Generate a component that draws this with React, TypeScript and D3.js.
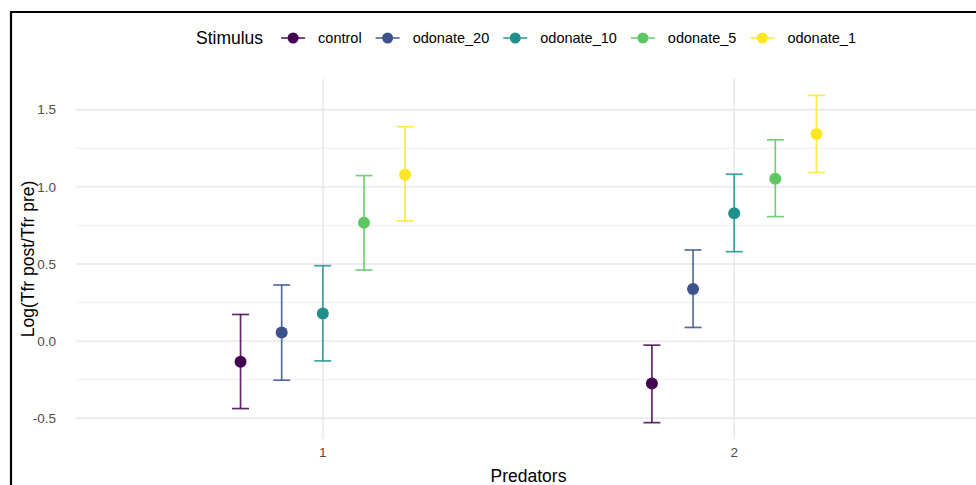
import React, { useEffect, useRef } from "react";
import * as d3 from "d3";

const categories = ["1", "2"];
const stimuli = ["control", "odonate_20", "odonate_10", "odonate_5", "odonate_1"];
const colors = ["#440154", "#3B528B", "#21908C", "#5DC863", "#FDE725"];
const mean1 = [-0.134, 0.056, 0.18, 0.768, 1.078];
const lower1 = [-0.437, -0.253, -0.128, 0.461, 0.779];
const upper1 = [0.173, 0.364, 0.489, 1.073, 1.39];
const mean2 = [-0.275, 0.338, 0.829, 1.052, 1.342];
const lower2 = [-0.528, 0.089, 0.58, 0.807, 1.093];
const upper2 = [-0.026, 0.591, 1.082, 1.305, 1.593];
const yTicks = [-0.5, 0.0, 0.5, 1.0, 1.5];
const yMinor = [-0.25, 0.25, 0.75, 1.25];

const W = 976;
const H = 485;
const FONT = "'Liberation Sans', Arial, sans-serif";

export default function App() {
  const ref = useRef<SVGSVGElement>(null);

  useEffect(() => {
    const svg = d3.select(ref.current);
    svg.selectAll("*").remove();

    const rows: any[] = [];
    const means = [mean1, mean2];
    const lows = [lower1, lower2];
    const ups = [upper1, upper2];
    categories.forEach((c, ci) => {
      stimuli.forEach((s, si) => {
        rows.push({ cat: c, stim: s, m: means[ci][si], lo: lows[ci][si], hi: ups[ci][si], col: colors[si] });
      });
    });

    const panel = { left: 76, right: 981, top: 79, bottom: 439 };
    const lo = d3.min(rows, (d) => d.lo) as number;
    const hi = d3.max(rows, (d) => d.hi) as number;
    const pad = (hi - lo) * 0.05;
    const y = d3.scaleLinear().domain([lo - pad, hi + pad]).range([panel.bottom, panel.top]);

    const unit = (panel.right - panel.left) / 2.2;
    const x = d3
      .scalePoint<string>()
      .domain(categories)
      .range([panel.left + 0.6 * unit, panel.right - 0.6 * unit]);
    const dodge = d3.scalePoint<string>().domain(stimuli).range([-0.2 * unit, 0.2 * unit]);

    const g = svg.append("g");

    // minor grid
    g.selectAll(".minor")
      .data(yMinor)
      .join("line")
      .attr("x1", panel.left)
      .attr("x2", panel.right)
      .attr("y1", (d) => y(d))
      .attr("y2", (d) => y(d))
      .attr("stroke", "#EBEBEB")
      .attr("stroke-width", 0.8);
    // major grid
    g.selectAll(".major")
      .data(yTicks)
      .join("line")
      .attr("x1", panel.left)
      .attr("x2", panel.right)
      .attr("y1", (d) => y(d))
      .attr("y2", (d) => y(d))
      .attr("stroke", "#E6E6E6")
      .attr("stroke-width", 1.4);
    g.selectAll(".vmajor")
      .data(categories)
      .join("line")
      .attr("x1", (d) => x(d)!)
      .attr("x2", (d) => x(d)!)
      .attr("y1", panel.top)
      .attr("y2", panel.bottom)
      .attr("stroke", "#E6E6E6")
      .attr("stroke-width", 1.4);

    // y tick labels
    g.selectAll(".ylab")
      .data(yTicks)
      .join("text")
      .attr("x", 56)
      .attr("y", (d) => y(d))
      .attr("dy", "0.35em")
      .attr("text-anchor", "end")
      .attr("font-family", FONT)
      .attr("font-size", 13.5)
      .attr("fill", "#4D4D4D")
      .text((d) => d3.format(".1f")(d).replace("−", "-"));

    // x tick labels
    g.selectAll(".xlab")
      .data(categories)
      .join("text")
      .attr("x", (d) => x(d)!)
      .attr("y", 457)
      .attr("text-anchor", "middle")
      .attr("font-family", FONT)
      .attr("font-size", 13.5)
      .attr("fill", "#4D4D4D")
      .text((d) => d);

    // axis titles
    g.append("text")
      .attr("x", (panel.left + panel.right) / 2)
      .attr("y", 482)
      .attr("text-anchor", "middle")
      .attr("font-family", FONT)
      .attr("font-size", 17.5)
      .attr("fill", "#000")
      .text("Predators");
    g.append("text")
      .attr("transform", `translate(34,${(panel.top + panel.bottom) / 2}) rotate(-90)`)
      .attr("text-anchor", "middle")
      .attr("font-family", FONT)
      .attr("font-size", 17.5)
      .attr("fill", "#000")
      .text("Log(Tfr post/Tfr pre)");

    // error bars
    const cap = 8.5;
    const eb = g.selectAll(".eb").data(rows).join("g");
    eb.append("line")
      .attr("x1", (d) => x(d.cat)! + dodge(d.stim)!)
      .attr("x2", (d) => x(d.cat)! + dodge(d.stim)!)
      .attr("y1", (d) => y(d.lo))
      .attr("y2", (d) => y(d.hi))
      .attr("stroke", (d) => d.col)
      .attr("stroke-opacity", 0.85)
      .attr("stroke-width", 1.7);
    ["lo", "hi"].forEach((k) => {
      eb.append("line")
        .attr("x1", (d) => x(d.cat)! + dodge(d.stim)! - cap)
        .attr("x2", (d) => x(d.cat)! + dodge(d.stim)! + cap)
        .attr("y1", (d) => y(d[k]))
        .attr("y2", (d) => y(d[k]))
        .attr("stroke", (d) => d.col)
        .attr("stroke-opacity", 0.85)
        .attr("stroke-width", 1.7);
    });
    eb.append("circle")
      .attr("cx", (d) => x(d.cat)! + dodge(d.stim)!)
      .attr("cy", (d) => y(d.m))
      .attr("r", 6)
      .attr("fill", (d) => d.col);

    // legend
    const lg = svg.append("g");
    const ly = 38;
    const title = lg
      .append("text")
      .attr("x", 196)
      .attr("y", ly)
      .attr("dy", "0.35em")
      .attr("font-family", FONT)
      .attr("font-size", 17.5)
      .attr("fill", "#000")
      .text("Stimulus");
    let cx = 196 + (title.node() as SVGTextElement).getComputedTextLength() + 30;
    stimuli.forEach((s, i) => {
      lg.append("line")
        .attr("x1", cx - 12)
        .attr("x2", cx + 12)
        .attr("y1", ly)
        .attr("y2", ly)
        .attr("stroke", colors[i])
        .attr("stroke-opacity", 0.85)
        .attr("stroke-width", 1.7);
      lg.append("circle").attr("cx", cx).attr("cy", ly).attr("r", 5.5).attr("fill", colors[i]);
      const t = lg
        .append("text")
        .attr("x", cx + 25)
        .attr("y", ly)
        .attr("dy", "0.35em")
        .attr("font-family", FONT)
        .attr("font-size", 14.5)
        .attr("fill", "#000")
        .text(s);
      cx = cx + 25 + (t.node() as SVGTextElement).getComputedTextLength() + 26;
    });

    // frame
    svg.append("path")
      .attr("d", `M11,${H} L11,12 L${W},12`)
      .attr("fill", "none")
      .attr("stroke", "#000")
      .attr("stroke-width", 2.2);
  }, []);

  return (
    <svg
      ref={ref}
      width={W}
      height={H}
      style={{ position: "absolute", left: 0, top: 0, background: "#fff" }}
    />
  );
}
